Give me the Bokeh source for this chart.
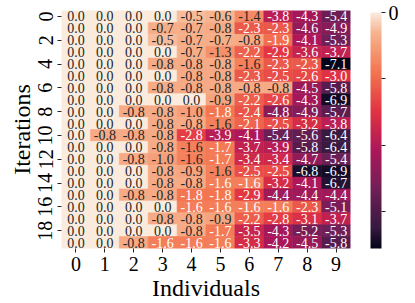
import numpy as np
from bokeh.plotting import figure
from bokeh.models import ColumnDataSource, LinearColorMapper, ColorBar, FixedTicker
from bokeh.core.properties import value
from bokeh.transform import transform
from bokeh.embed import file_html
from bokeh.resources import INLINE

individuals = [str(j) for j in range(10)]
iterations = [str(i) for i in range(20)]
ytick_labels = ["0", "2", "4", "6", "8", "10", "12", "14", "16", "18"]
cbar_ticks = [0.0, -2.0, -4.0, -6.0]

row_0 = [0.0, 0.0, 0.0, 0.0, -0.5, -0.6, -1.4, -3.8, -4.3, -5.4]
row_1 = [0.0, 0.0, 0.0, -0.7, -0.7, -0.8, -2.3, -2.3, -4.6, -4.9]
row_2 = [0.0, 0.0, 0.0, -0.5, -0.7, -0.7, -0.8, -1.9, -4.1, -5.3]
row_3 = [0.0, 0.0, 0.0, 0.0, -0.7, -1.3, -2.2, -2.9, -3.6, -3.7]
row_4 = [0.0, 0.0, 0.0, -0.8, -0.8, -0.8, -1.58, -2.3, -2.3, -7.1]
row_5 = [0.0, 0.0, 0.0, 0.0, -0.8, -0.8, -2.3, -2.5, -2.6, -3.0]
row_6 = [0.0, 0.0, 0.0, -0.8, -0.8, -0.8, -0.8, -0.8, -4.5, -5.8]
row_7 = [0.0, 0.0, 0.0, 0.0, 0.0, -0.9, -2.2, -2.6, -4.3, -6.9]
row_8 = [0.0, 0.0, -0.8, -0.8, -1.0, -1.8, -2.4, -4.8, -4.9, -5.7]
row_9 = [0.0, 0.0, 0.0, -0.8, -0.8, -1.58, -2.1, -2.5, -3.2, -3.8]
row_10 = [0.0, -0.8, -0.8, -0.8, -2.8, -3.9, -4.1, -5.4, -5.6, -6.4]
row_11 = [0.0, 0.0, 0.0, -0.8, -1.58, -1.7, -3.7, -3.9, -5.8, -6.4]
row_12 = [0.0, 0.0, -0.8, -1.0, -1.58, -1.7, -3.4, -3.4, -4.7, -5.4]
row_13 = [0.0, 0.0, 0.0, -0.8, -0.9, -1.58, -2.5, -2.5, -6.8, -6.9]
row_14 = [0.0, 0.0, 0.0, -0.8, -0.8, -1.62, -1.62, -3.2, -4.1, -6.7]
row_15 = [0.0, 0.0, -0.8, -0.8, -1.8, -1.8, -2.9, -4.4, -4.4, -4.4]
row_16 = [0.0, 0.0, 0.0, 0.0, -1.62, -1.62, -1.62, -1.62, -2.3, -5.1]
row_17 = [0.0, 0.0, 0.0, -0.8, -0.8, -0.9, -2.2, -2.8, -3.1, -3.7]
row_18 = [0.0, 0.0, 0.0, 0.0, -0.8, -1.7, -3.5, -4.3, -5.2, -5.3]
row_19 = [0.0, 0.0, -0.8, -1.62, -1.62, -1.62, -3.3, -4.2, -4.5, -5.8]

rows = [row_0, row_1, row_2, row_3, row_4, row_5, row_6, row_7, row_8, row_9,
        row_10, row_11, row_12, row_13, row_14, row_15, row_16, row_17, row_18, row_19]

# rocket-like palette
anc_pos = [0.0, 0.083, 0.25, 0.417, 0.583, 0.75, 0.917, 1.0]
anc_hex = ["#03051a", "#35193e", "#701f57", "#ad1759", "#e13342", "#f37651", "#f6b48f", "#faebdd"]
anc_rgb = np.array([[int(h[i:i + 2], 16) for i in (1, 3, 5)] for h in anc_hex], dtype=float)
tt = np.linspace(0, 1, 256)
pal = []
for t in tt:
    r = np.interp(t, anc_pos, anc_rgb[:, 0])
    g = np.interp(t, anc_pos, anc_rgb[:, 1])
    b = np.interp(t, anc_pos, anc_rgb[:, 2])
    pal.append("#%02x%02x%02x" % (int(round(r)), int(round(g)), int(round(b))))

vals = np.array(rows)
vmin, vmax = float(vals.min()), float(vals.max())
mapper = LinearColorMapper(palette=pal, low=vmin, high=vmax)

xs, ys, vs, labels, tcol = [], [], [], [], []
for i, r in enumerate(rows):
    for j, v in enumerate(r):
        xs.append(j + 0.5)
        ys.append(i + 0.5)
        vs.append(v)
        s = "%.1f" % v
        if s == "-0.0":
            s = "0.0"
        labels.append(s)
        tcol.append("white" if v < -1.6 else "#262626")

src = ColumnDataSource(dict(x=xs, y=ys, v=vs, label=labels, tcol=tcol))

FONT = "Liberation Serif"

p = figure(frame_width=289, frame_height=238, x_range=(0, 10), y_range=(20, 0),
           output_backend="svg", toolbar_location=None,
           min_border_top=10, min_border_left=61, min_border_right=62, min_border_bottom=20)
p.rect(x="x", y="y", width=1, height=1, source=src,
       fill_color=transform("v", mapper), line_color=transform("v", mapper), line_width=0.6)
p.text(x="x", y="y", text="label", source=src, text_color="tcol",
       text_font=value(FONT), text_font_size="14px", text_align="center", text_baseline="middle")

p.xgrid.visible = False
p.ygrid.visible = False
p.outline_line_color = None

for ax in (p.xaxis[0], p.yaxis[0]):
    ax.axis_line_color = None
    ax.major_tick_in = 0
    ax.major_tick_out = 4
    ax.minor_tick_line_color = None
    ax.major_tick_line_color = "#262626"
    ax.major_label_text_font = FONT
    ax.major_label_text_font_size = "20px"
    ax.major_label_text_color = "black"
    ax.axis_label_text_font = FONT
    ax.axis_label_text_font_size = "24px"
    ax.axis_label_text_font_style = "normal"
    ax.axis_label_text_color = "black"

p.xaxis.ticker = FixedTicker(ticks=[j + 0.5 for j in range(len(individuals))])
p.xaxis.major_label_overrides = {j + 0.5: individuals[j] for j in range(len(individuals))}
p.xaxis.axis_label = "Individuals"
p.xaxis.major_label_standoff = 4
p.xaxis.axis_label_standoff = 1

ytick_pos = [float(int(s)) + 0.5 for s in ytick_labels]
p.yaxis.ticker = FixedTicker(ticks=ytick_pos)
p.yaxis.major_label_overrides = {pos: s for pos, s in zip(ytick_pos, ytick_labels)}
p.yaxis.major_label_orientation = "vertical"
p.yaxis.axis_label = "Iterations"
p.yaxis.major_label_standoff = 5
p.yaxis.axis_label_standoff = 1

cb = ColorBar(color_mapper=mapper, width=11, height=236, padding=0, margin=0,
              location=(20, 0), ticker=FixedTicker(ticks=cbar_ticks),
              major_label_overrides={t: ("\u2212%d" % -t if t < 0 else "%d" % t) for t in cbar_ticks},
              major_label_text_font=FONT, major_label_text_font_size="20px",
              major_label_text_color="black", major_tick_in=0, major_tick_out=4,
              major_tick_line_color="#262626", bar_line_color=None, border_line_color=None,
              label_standoff=3, background_fill_color=None)
p.add_layout(cb, "right")

open("out.html", "w").write(file_html(p, INLINE))
